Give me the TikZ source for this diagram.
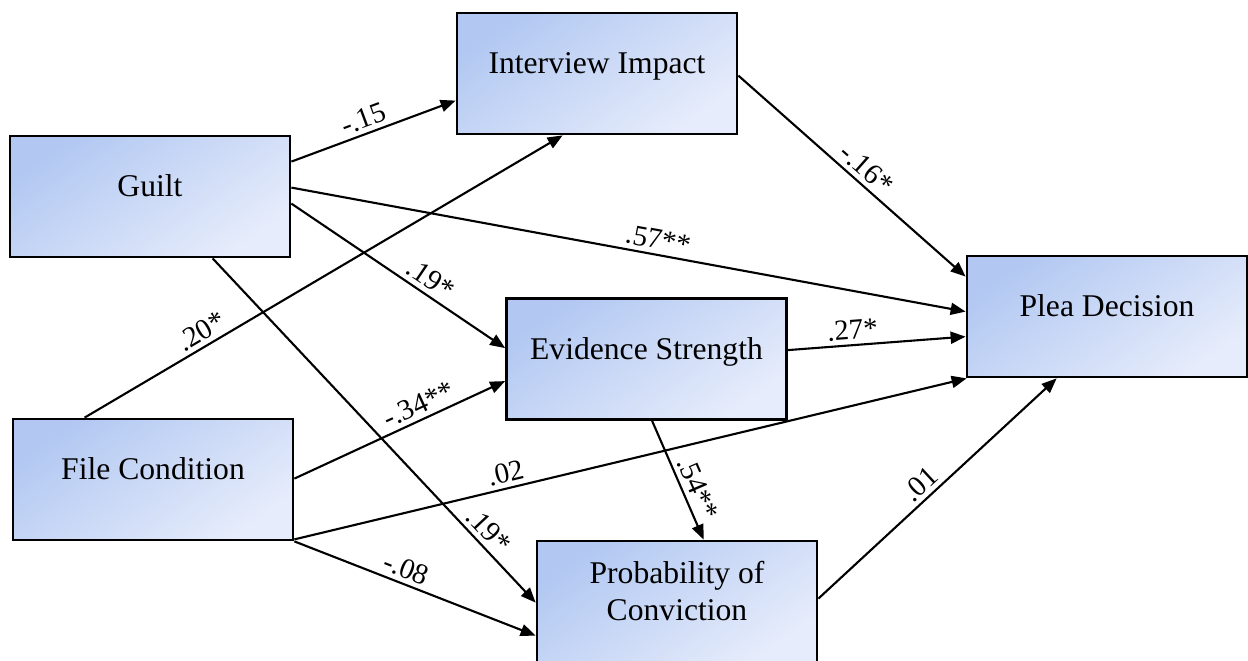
\documentclass[tikz,border=0pt]{standalone}
\usepackage{fontspec}
\setmainfont{Liberation Serif}
\usetikzlibrary{arrows.meta,calc}
\definecolor{boxtop}{RGB}{178,200,242}
\definecolor{boxbottom}{RGB}{230,236,251}

\begin{document}
\begin{tikzpicture}[x=0.02cm, y=-0.02cm, construct/.style={rectangle, draw, line width=1.6pt, top color=boxtop, bottom color=boxbottom, shading angle=35, minimum width=5.6cm, minimum height=2.42cm, align=center, text depth=0.43cm, font=\fontsize{18pt}{21pt}\selectfont}, effect/.style={draw, line width=1.2pt, -{Triangle[length=0.3cm, width=0.24cm]}}, coef/.style={sloped, above, inner sep=2.5pt, font=\fontsize{16.5pt}{19pt}\selectfont}]
  \useasboundingbox (0,0) rectangle (1248,661);
  \node[construct] (guilt) at (150,196.5) {Guilt};
  \node[construct] (interview) at (597,73.5) {Interview Impact};
  \node[construct] (evidence) at (646.5,359) {Evidence Strength};
  \node[construct] (conviction) at (677,601.5) {Probability of\\Conviction};
  \node[construct] (plea) at (1107,316.5) {Plea Decision};
  \node[construct] (file) at (153,479.5) {File Condition};

  \draw[effect] ($(guilt.north east)+(0,27)$) -- node[coef, pos=.47] {-.15} ($(interview.north west)+(0,89)$);
  \draw[effect] ($(guilt.north east)+(0,53)$) -- node[coef, pos=.54] {.57**} ($(plea.north west)+(0,57)$);
  \draw[effect] ($(guilt.north east)+(0,69)$) -- node[coef, pos=.61] {.19*} ($(evidence.north west)+(0,51)$);
  \draw[effect] ($(guilt.south west)+(204,0)$) -- node[coef, pos=.82] {.19*} ($(conviction.north west)+(0,63)$);
  \draw[effect] ($(file.north west)+(73,0)$) -- node[coef, pos=.26] {.20*} ($(interview.south west)+(107,0)$);
  \draw[effect] ($(file.north east)+(0,61)$) -- node[coef, pos=.62] {-.34**} ($(evidence.north west)+(0,84)$);
  \draw[effect] ($(file.south east)+(0,-2)$) -- node[coef, pos=.32] {.02} ($(plea.south west)+(1,0)$);
  \draw[effect] (file.south east) -- node[coef, pos=.44] {-.08} ($(conviction.north west)+(0,96)$);
  \draw[effect] ($(interview.north east)+(0,64)$) -- node[coef, pos=.52] {-.16*} ($(plea.north west)+(0,22)$);
  \draw[effect] ($(evidence.north east)+(0,53)$) -- node[coef, pos=.37] {.27*} ($(plea.north west)+(0,82)$);
  \draw[effect] ($(evidence.south west)+(147,0)$) -- node[coef, pos=.62] {.54**} ($(conviction.north west)+(168,0)$);
  \draw[effect] ($(conviction.north east)+(0,59)$) -- node[coef, pos=.47] {.01} ($(plea.south west)+(91,0)$);
\end{tikzpicture}
\end{document}
